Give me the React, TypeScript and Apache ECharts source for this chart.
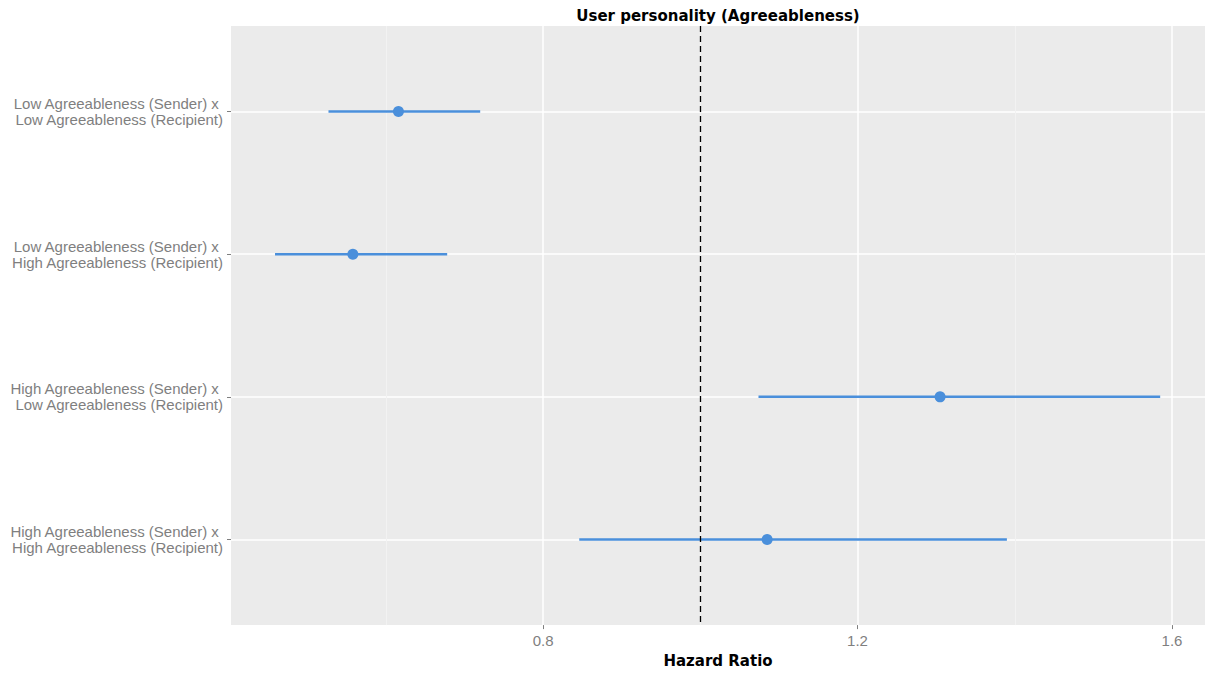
import React, { useEffect, useRef } from 'react';
import * as echarts from 'echarts';

const categories = [
  'Low Agreeableness (Sender) x \nLow Agreeableness (Recipient)',
  'Low Agreeableness (Sender) x \nHigh Agreeableness (Recipient)',
  'High Agreeableness (Sender) x \nLow Agreeableness (Recipient)',
  'High Agreeableness (Sender) x \nHigh Agreeableness (Recipient)',
];
const estimates = [0.616, 0.558, 1.305, 1.085];
const lower = [0.527, 0.459, 1.074, 0.846];
const upper = [0.720, 0.678, 1.585, 1.390];
const xMajorTicks = [0.8, 1.2, 1.6];
const xMinorTicks = [0.6, 1.0, 1.4];
const referenceValue = 1.0;
const chartTitle = 'User personality (Agreeableness)';
const xAxisTitle = 'Hazard Ratio';

const BLUE = '#4a8fdb';
const GREY = '#7f7f7f';

export default function App() {
  const ref = useRef<HTMLDivElement>(null);
  useEffect(() => {
    if (!ref.current) return;
    const chart = echarts.init(ref.current, null, { renderer: 'svg' });
    const yPositions = categories.map((_, i) => i + 1);
    chart.setOption({
      animation: false,
      backgroundColor: '#ffffff',
      grid: {
        left: 231,
        right: 4,
        top: 26,
        bottom: 46,
        show: true,
        backgroundColor: '#ebebeb',
        borderWidth: 0,
      },
      graphic: [
        {
          type: 'text',
          x: 718,
          y: 16,
          style: {
            text: chartTitle,
            align: 'center',
            verticalAlign: 'middle',
            fontFamily: 'DejaVu Sans',
            fontWeight: 'bold',
            fontSize: 15,
            fill: '#000000',
          },
        },
      ],
      xAxis: [
        {
          type: 'value',
          min: 0.403,
          max: 1.642,
          position: 'bottom',
          axisLine: { show: false },
          axisTick: {
            show: true,
            length: 4,
            customValues: xMajorTicks,
            lineStyle: { color: GREY, width: 1 },
          },
          axisLabel: {
            customValues: xMajorTicks,
            color: GREY,
            fontSize: 15,
            fontFamily: 'Liberation Sans',
            margin: 8,
            formatter: (v: number) => v.toFixed(1),
          },
          splitLine: { show: true, lineStyle: { color: '#ffffff', width: 1.5 } },
          name: xAxisTitle,
          nameLocation: 'middle',
          nameGap: 27,
          nameTextStyle: {
            fontFamily: 'DejaVu Sans',
            fontWeight: 'bold',
            fontSize: 15,
            color: '#000000',
          },
        },
        {
          type: 'value',
          min: 0.403,
          max: 1.642,
          position: 'top',
          axisLine: { show: false },
          axisTick: { show: false, customValues: xMinorTicks },
          axisLabel: { show: false, customValues: xMinorTicks },
          splitLine: { show: true, lineStyle: { color: '#f2f2f2', width: 1 } },
        },
      ],
      yAxis: {
        type: 'value',
        inverse: true,
        min: 0.4,
        max: 4.6,
        axisLine: { show: false },
        axisTick: {
          show: true,
          length: 4,
          customValues: yPositions,
          lineStyle: { color: GREY, width: 1 },
        },
        axisLabel: {
          customValues: yPositions,
          formatter: (v: number) => categories[Math.round(v) - 1] ?? '',
          color: GREY,
          fontSize: 15,
          lineHeight: 16,
          fontFamily: 'Liberation Sans',
          align: 'right',
          margin: 8,
        },
        splitLine: { show: true, lineStyle: { color: '#ffffff', width: 1.5 } },
      },
      series: [
        {
          type: 'line',
          data: [],
          z: 2,
          silent: true,
          markLine: {
            silent: true,
            symbol: ['none', 'none'],
            label: { show: false },
            lineStyle: { color: '#000000', type: [6, 4], width: 1.3 },
            emphasis: { disabled: true },
            data: [{ xAxis: referenceValue }],
          },
        },
        {
          type: 'custom',
          z: 3,
          silent: true,
          data: categories.map((_, i) => [lower[i], upper[i], i + 1]),
          encode: { x: [0, 1], y: 2 },
          renderItem: (params: any, api: any) => {
            const y = api.value(2);
            const p1 = api.coord([api.value(0), y]);
            const p2 = api.coord([api.value(1), y]);
            return {
              type: 'line',
              shape: { x1: p1[0], y1: p1[1], x2: p2[0], y2: p2[1] },
              style: { stroke: BLUE, lineWidth: 2.5 },
            };
          },
        },
        {
          type: 'scatter',
          z: 4,
          silent: true,
          symbol: 'circle',
          symbolSize: 11,
          itemStyle: { color: BLUE, opacity: 1 },
          data: categories.map((_, i) => [estimates[i], i + 1]),
        },
      ],
    });
    return () => chart.dispose();
  }, []);
  return (
    <div
      ref={ref}
      style={{ position: 'fixed', left: 0, top: 0, width: 1209, height: 673 }}
    />
  );
}
